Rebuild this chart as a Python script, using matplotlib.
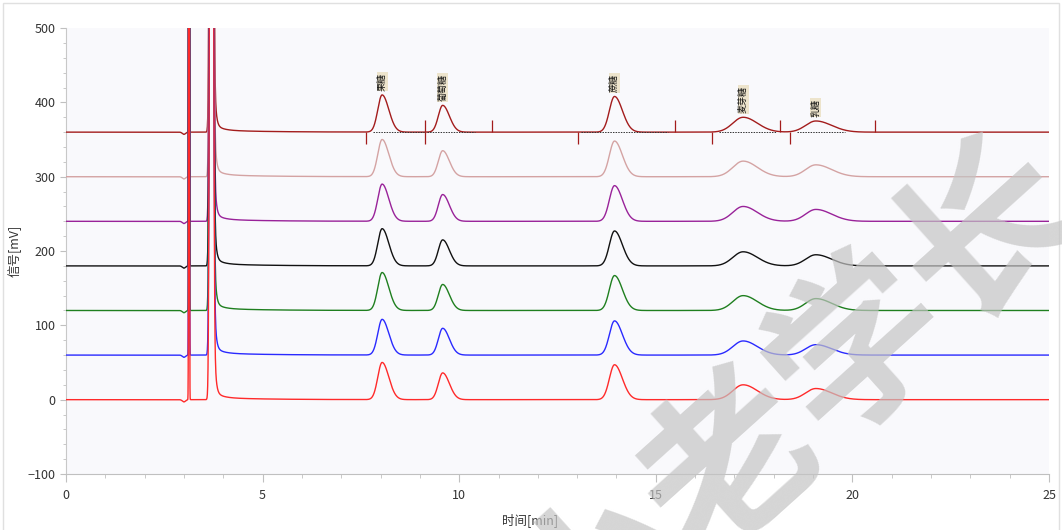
import matplotlib
matplotlib.use("Agg")
import matplotlib.pyplot as plt
from matplotlib.patches import Rectangle
import numpy as np

plt.rcParams['font.family'] = ['Noto Sans CJK SC', 'DejaVu Sans']

# 各样品的基线偏移与颜色（从下到上）
offsets = [0, 60, 120, 180, 240, 300, 360]
colors = ['#ff2a2a', '#2a2aff', '#1f7f1f', '#111111', '#992299', '#d4a3a3', '#a31c1c']

# 糖峰：保留时间、左右半宽、各样品峰高
peak_names = ['果糖', '葡萄糖', '蔗糖', '麦芽糖', '乳糖']
peak_times = [8.04, 9.58, 13.95, 17.22, 19.07]
sigma_left = [0.11, 0.11, 0.13, 0.26, 0.26]
sigma_right = [0.17, 0.17, 0.20, 0.36, 0.40]
peak_heights = [
    [50, 36, 47, 20, 15],
    [48, 36, 46, 19, 14],
    [51, 35, 47, 20, 16],
    [50, 35, 47, 19, 15],
    [50, 36, 48, 20, 16],
    [50, 35, 48, 21, 16],
    [50, 36, 48, 20, 15],
]

# 溶剂峰
spike_time = 3.13
solvent_time = 3.70
dip_time = 3.0

# 积分标记（最上面一条）
marks_up = [9.13, 10.83, 15.49, 18.16, 20.57]
marks_down = [7.62, 9.13, 13.02, 16.43, 18.41]
baseline_segments = [(7.8, 9.1), (9.18, 10.4), (13.1, 15.3), (16.6, 18.05), (18.6, 19.8)]

t = np.linspace(0, 25, 6001)


def bigauss(x, mu, sl, sr, h):
    s = np.where(x < mu, sl, sr)
    return h * np.exp(-0.5 * ((x - mu) / s) ** 2)


def trace(i):
    y = np.full_like(t, float(offsets[i]))
    for k in range(len(peak_times)):
        y += bigauss(t, peak_times[k], sigma_left[k], sigma_right[k], peak_heights[i][k])
    y -= 3 * np.exp(-0.5 * ((t - dip_time) / 0.04) ** 2)
    y += bigauss(t, spike_time, 0.008, 0.008, 1500)
    y += bigauss(t, solvent_time, 0.03, 0.03, 3000)
    tail = np.where(t > solvent_time, 1.0, 0.0)
    y += tail * (600 * np.exp(-(t - solvent_time) / 0.035) + 12 * np.exp(-(t - solvent_time) / 0.18)
                 + 3 * np.exp(-(t - solvent_time) / 1.2))
    return y


fig = plt.figure(figsize=(10.62, 5.30), dpi=100)
fig.patches.append(Rectangle((0.003, -0.01), 0.994, 1.005, transform=fig.transFigure,
                             fill=False, edgecolor='#e0e0e0', linewidth=1))
ax = fig.add_axes([0.0621, 0.1057, 0.9257, 0.8413])
ax.set_facecolor('#f9f9fc')

for i in range(len(offsets)):
    ax.plot(t, trace(i), color=colors[i], linewidth=1.0, zorder=3 + (len(offsets) - i) * 0.01)

# 积分标记与基线
top = len(offsets) - 1
base = offsets[top]
ax.vlines(marks_up, base, base + 16, color=colors[top], linewidth=0.9, zorder=4)
ax.vlines(marks_down, base - 16, base, color=colors[top], linewidth=0.9, zorder=4)
for a, b in baseline_segments:
    ax.plot([a, b], [base + 0.5, base + 0.5], color='#333333', linewidth=0.7,
            linestyle=(0, (1.5, 1.2)), zorder=4)
for k, name in enumerate(peak_names):
    ax.text(peak_times[k], base + peak_heights[top][k] + 6, name, rotation=90,
            ha='center', va='bottom', fontsize=6.5, color='#111111', zorder=6,
            bbox=dict(boxstyle='square,pad=0.1', facecolor='#eadfc0', edgecolor='none', alpha=0.8))

ax.set_xlim(0, 25)
ax.set_ylim(-100, 500)
ax.set_xticks(np.arange(0, 26, 5))
ax.set_xticks(np.arange(0, 26, 1), minor=True)
ax.set_yticks(np.arange(-100, 501, 100))
ax.set_yticks(np.arange(-100, 501, 20), minor=True)
for s in ['top', 'right']:
    ax.spines[s].set_visible(False)
ax.spines['left'].set_color('#c8c8c8')
ax.spines['bottom'].set_color('#c0c0c0')
ax.tick_params(axis='both', which='both', colors='#c0c0c0', labelcolor='#333333', labelsize=9)
ax.tick_params(axis='x', which='major', length=6, pad=5)
ax.tick_params(axis='x', which='minor', length=3)
ax.tick_params(axis='y', which='major', length=4)
ax.tick_params(axis='y', which='minor', length=2)
ax.set_xlabel('时间[min]', fontsize=9, color='#333333')
ax.set_ylabel('信号[mV]', fontsize=9, color='#333333')
ax.xaxis.set_label_coords(0.472, -0.087)
ax.yaxis.set_label_coords(-0.045, 0.5)

# 水印
fig.text(0.75, 0.23, '小老学长', fontsize=125, fontweight='bold', color='#c4c4c4', alpha=0.7,
         rotation=42, ha='center', va='center', zorder=10)

fig.savefig('out.png', dpi=100)
